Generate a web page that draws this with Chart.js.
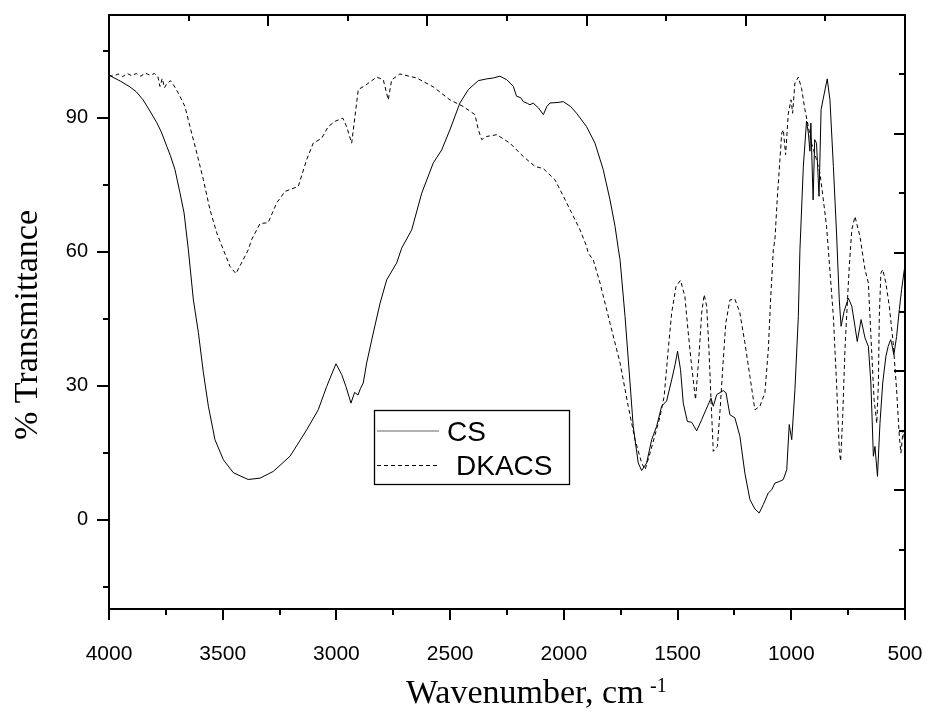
<!DOCTYPE html>
<html>
<head>
<meta charset="utf-8">
<script src="https://cdn.jsdelivr.net/npm/chart.js@4.4.0/dist/chart.umd.min.js"></script>
<style>
  html, body { margin: 0; padding: 0; background: #fff; }
  #wrap { width: 927px; height: 713px; }
</style>
</head>
<body>
<div id="wrap"><canvas id="ir-chart" width="927" height="713"></canvas></div>
<script>
// wavenumbers (cm-1) and % transmittance
const csWave = [4000, 3950, 3908, 3880, 3850, 3820, 3790, 3770, 3746, 3730, 3710, 3688, 3670, 3651, 3629, 3607, 3585, 3563, 3534, 3497, 3453, 3388, 3336, 3278, 3204, 3131, 3080, 3043, 3002, 2977, 2958, 2936, 2920, 2905, 2895, 2882, 2867, 2838, 2808, 2779, 2735, 2713, 2669, 2625, 2574, 2537, 2501, 2457, 2420, 2376, 2339, 2310, 2281, 2251, 2222, 2208, 2190, 2178, 2160, 2149, 2135, 2112, 2090, 2075, 2061, 2030, 2002, 1970, 1944, 1900, 1863, 1827, 1797, 1775, 1761, 1753, 1731, 1709, 1695, 1673, 1658, 1636, 1614, 1592, 1570, 1548, 1526, 1511, 1500, 1487, 1475, 1457, 1438, 1416, 1394, 1372, 1353, 1343, 1328, 1299, 1287, 1270, 1248, 1226, 1204, 1182, 1160, 1141, 1123, 1101, 1086, 1072, 1050, 1035, 1020, 1009, 998, 984, 969, 962, 947, 933, 925, 918, 914, 904, 897, 889, 878, 869, 859, 842, 830, 815, 801, 798, 789, 781, 768, 749, 734, 720, 710, 693, 676, 661, 650, 639, 632, 621, 610, 598, 584, 574, 563, 559, 549, 537, 525, 515, 503, 500];
const csValues = [99.5, 98.2, 96.9, 95.8, 94.0, 91.5, 88.9, 86.8, 83.6, 81.5, 78.4, 73.2, 68.7, 60.4, 49.2, 41.9, 32.9, 25.4, 17.9, 13.4, 10.5, 9.0, 9.3, 10.8, 14.2, 20.1, 24.6, 29.8, 34.9, 32.5, 29.8, 26.1, 28.5, 27.9, 29.3, 30.6, 35.1, 41.8, 48.5, 53.7, 57.5, 60.8, 64.9, 73.1, 79.9, 82.8, 87.3, 93.3, 96.3, 98.3, 98.7, 98.9, 99.3, 98.5, 97.0, 94.8, 94.5, 93.6, 93.2, 92.9, 93.3, 92.2, 90.7, 92.5, 93.3, 93.4, 93.6, 92.5, 91.0, 88.0, 84.3, 78.4, 71.6, 65.7, 60.8, 58.2, 45.5, 30.6, 20.9, 12.7, 11.0, 12.7, 17.9, 20.9, 25.4, 26.6, 31.3, 34.7, 37.7, 33.6, 26.1, 22.0, 21.8, 19.9, 22.4, 25.0, 27.2, 25.4, 28.0, 28.9, 28.4, 23.5, 22.8, 18.7, 10.4, 4.5, 2.4, 1.5, 3.4, 6.0, 6.7, 8.2, 8.6, 9.0, 11.2, 21.3, 17.9, 29.1, 45.5, 60.4, 79.1, 89.2, 86.6, 82.5, 88.8, 71.6, 85.1, 84.3, 72.4, 91.8, 94.4, 98.7, 94.0, 79.1, 64.2, 60.4, 49.2, 43.3, 46.6, 49.6, 47.8, 43.3, 39.9, 44.8, 40.7, 38.8, 30.6, 14.2, 16.4, 9.7, 21.6, 30.6, 36.6, 38.8, 40.3, 39.6, 36.9, 41.0, 47.0, 51.5, 56.0, 57.0];

const dkWave = [4000, 3980, 3960, 3940, 3920, 3900, 3880, 3860, 3840, 3820, 3800, 3785, 3776, 3766, 3756, 3746, 3730, 3717, 3695, 3666, 3644, 3614, 3585, 3556, 3526, 3497, 3468, 3442, 3417, 3388, 3373, 3336, 3300, 3263, 3226, 3168, 3131, 3102, 3065, 3036, 3006, 2972, 2955, 2933, 2918, 2904, 2874, 2823, 2794, 2772, 2757, 2721, 2647, 2574, 2501, 2442, 2391, 2376, 2361, 2339, 2295, 2237, 2178, 2127, 2090, 2039, 2002, 1966, 1929, 1900, 1893, 1871, 1841, 1797, 1753, 1717, 1687, 1658, 1643, 1621, 1599, 1577, 1559, 1541, 1526, 1507, 1487, 1468, 1453, 1438, 1421, 1406, 1394, 1383, 1372, 1362, 1353, 1343, 1325, 1313, 1301, 1288, 1270, 1248, 1226, 1204, 1182, 1160, 1138, 1116, 1101, 1091, 1079, 1072, 1062, 1050, 1042, 1035, 1025, 1013, 1001, 994, 984, 969, 955, 940, 925, 911, 889, 874, 859, 845, 837, 815, 801, 789, 783, 774, 764, 749, 745, 734, 720, 698, 676, 661, 647, 636, 624, 617, 613, 606, 598, 584, 569, 552, 537, 525, 518, 508, 500];
const dkValues = [99.5, 99.3, 99.8, 99.2, 99.9, 99.4, 99.9, 99.3, 100.0, 99.5, 99.9, 99.2, 97.0, 98.8, 96.7, 97.6, 98.3, 97.4, 95.5, 92.5, 88.0, 82.1, 76.1, 69.4, 64.2, 60.4, 56.7, 55.1, 57.5, 60.4, 62.7, 66.3, 66.5, 70.9, 73.5, 74.6, 80.6, 84.3, 85.4, 88.0, 89.2, 89.9, 88.0, 84.3, 90.5, 96.3, 97.2, 99.1, 98.5, 94.0, 98.5, 99.8, 98.9, 96.9, 94.0, 92.5, 90.7, 87.3, 85.1, 85.8, 86.2, 84.3, 81.3, 79.1, 78.6, 76.1, 72.4, 68.7, 64.9, 61.2, 59.7, 58.2, 53.0, 44.0, 35.1, 25.4, 17.9, 12.7, 11.2, 14.9, 19.0, 23.1, 27.6, 38.1, 46.3, 52.2, 53.6, 50.0, 41.8, 34.3, 26.9, 36.6, 46.3, 50.4, 47.8, 38.1, 26.9, 15.3, 16.4, 24.6, 34.3, 44.0, 49.2, 49.4, 46.3, 39.6, 32.1, 24.6, 25.4, 28.4, 38.1, 49.2, 60.4, 62.7, 71.6, 80.6, 86.6, 87.3, 81.7, 91.0, 94.0, 91.0, 97.8, 99.1, 96.6, 91.8, 88.0, 84.3, 80.6, 77.6, 71.6, 65.7, 60.4, 45.5, 30.6, 15.7, 13.1, 23.1, 38.1, 53.0, 56.7, 64.9, 67.9, 63.4, 56.0, 53.0, 38.1, 26.9, 21.6, 30.6, 45.5, 55.2, 56.0, 53.0, 47.8, 39.6, 29.1, 18.7, 14.9, 20.1, 17.0];

const xTickValues = [4000, 3500, 3000, 2500, 2000, 1500, 1000, 500];
const yTickValues = [0, 30, 60, 90];
const seriesNames = ['CS', 'DKACS'];

const toPoints = (xs, ys) => xs.map((x, i) => ({x: x, y: ys[i]}));

// frame, inward/outward ticks, titles and the boxed legend
const framePlugin = {
    id: 'frame',
    afterDraw(chart) {
        const {ctx, chartArea: a, scales} = chart;
        const xs = scales.x, ys = scales.y;
        ctx.save();
        ctx.strokeStyle = '#000';
        ctx.lineWidth = 2;
        ctx.strokeRect(a.left, a.top, a.right - a.left, a.bottom - a.top);

        ctx.beginPath();
        // bottom axis, outward
        for (let w = 4000; w >= 500; w -= 250) {
            const px = Math.round(xs.getPixelForValue(w));
            const len = (w % 500 === 0) ? 11 : 6;
            ctx.moveTo(px, a.bottom); ctx.lineTo(px, a.bottom + len);
        }
        // left axis, outward
        for (let v = -15; v <= 105; v += 15) {
            const py = Math.round(ys.getPixelForValue(v));
            const len = (v % 30 === 0) ? 12 : 6;
            ctx.moveTo(a.left, py); ctx.lineTo(a.left - len, py);
        }
        // top and right axes, inward, ten divisions
        for (let i = 1; i < 10; i++) {
            const len = (i % 2 === 0) ? 11 : 6;
            const px = Math.round(a.left + i * (a.right - a.left) / 10);
            ctx.moveTo(px, a.top); ctx.lineTo(px, a.top + len);
            const py = Math.round(a.bottom - i * (a.bottom - a.top) / 10);
            ctx.moveTo(a.right, py); ctx.lineTo(a.right - len, py);
        }
        ctx.stroke();

        // axis titles
        ctx.fillStyle = '#000';
        ctx.font = '34px "Liberation Serif", "Times New Roman", serif';
        ctx.textBaseline = 'alphabetic';
        ctx.textAlign = 'left';
        ctx.fillText('Wavenumber, cm', 406, 703);
        ctx.font = '20px "Liberation Serif", "Times New Roman", serif';
        ctx.fillText('-1', 650, 692);

        ctx.save();
        ctx.translate(37, 325);
        ctx.rotate(-Math.PI / 2);
        ctx.font = '34px "Liberation Serif", "Times New Roman", serif';
        ctx.textAlign = 'center';
        ctx.fillText('% Transmittance', 0, 0);
        ctx.restore();

        // legend box
        ctx.lineWidth = 1.3;
        ctx.strokeStyle = '#000';
        ctx.strokeRect(374.5, 410.5, 195, 74);
        ctx.lineWidth = 1.2;
        ctx.strokeStyle = '#666';
        ctx.beginPath();
        ctx.moveTo(377, 431); ctx.lineTo(439, 431);
        ctx.stroke();
        ctx.strokeStyle = '#000';
        ctx.lineWidth = 1;
        ctx.setLineDash([4, 3]);
        ctx.beginPath();
        ctx.moveTo(377, 465.5); ctx.lineTo(439, 465.5);
        ctx.stroke();
        ctx.setLineDash([]);
        ctx.font = '28px "Liberation Sans", Arial, sans-serif';
        ctx.textAlign = 'left';
        ctx.fillText(seriesNames[0], 447, 441);
        ctx.fillText(seriesNames[1], 456, 475);
        ctx.restore();
    }
};

const config = {
    type: 'line',
    data: {
        datasets: [
            {
                label: seriesNames[0],
                data: toPoints(csWave, csValues),
                borderColor: '#000',
                borderWidth: 1,
                pointRadius: 0,
                tension: 0,
                fill: false
            },
            {
                label: seriesNames[1],
                data: toPoints(dkWave, dkValues),
                borderColor: '#000',
                borderWidth: 1,
                borderDash: [4, 3],
                pointRadius: 0,
                tension: 0,
                fill: false
            }
        ]
    },
    options: {
        responsive: false,
        animation: false,
        devicePixelRatio: 1,
        layout: {padding: {left: 0, top: 15, right: 22, bottom: 0}},
        plugins: {
            legend: {display: false},
            tooltip: {enabled: false}
        },
        scales: {
            x: {
                type: 'linear',
                reverse: true,
                min: 500,
                max: 4000,
                grid: {display: false, drawTicks: true, tickLength: 11},
                border: {display: false},
                afterBuildTicks: scale => { scale.ticks = xTickValues.map(v => ({value: v})); },
                afterFit: scale => {
                    scale.height = 104;
                    scale.paddingLeft = 0;
                    scale.paddingRight = 0;
                },
                ticks: {
                    color: '#000',
                    padding: 22,
                    maxRotation: 0,
                    autoSkip: false,
                    font: {family: '"Liberation Sans", Arial, sans-serif', size: 21},
                    callback: v => String(v)
                }
            },
            y: {
                type: 'linear',
                min: -20,
                max: 113,
                grid: {display: false, drawTicks: true, tickLength: 12},
                border: {display: false},
                afterBuildTicks: scale => { scale.ticks = yTickValues.map(v => ({value: v})); },
                afterFit: scale => {
                    scale.width = 109;
                    scale.paddingTop = 0;
                    scale.paddingBottom = 0;
                },
                ticks: {
                    color: '#000',
                    padding: 9,
                    autoSkip: false,
                    font: {family: '"Liberation Sans", Arial, sans-serif', size: 20},
                    callback: v => String(v)
                }
            }
        }
    },
    plugins: [framePlugin]
};

const ctx = document.getElementById('ir-chart').getContext('2d');
window.irChart = new Chart(ctx, config);
</script>
</body>
</html>
